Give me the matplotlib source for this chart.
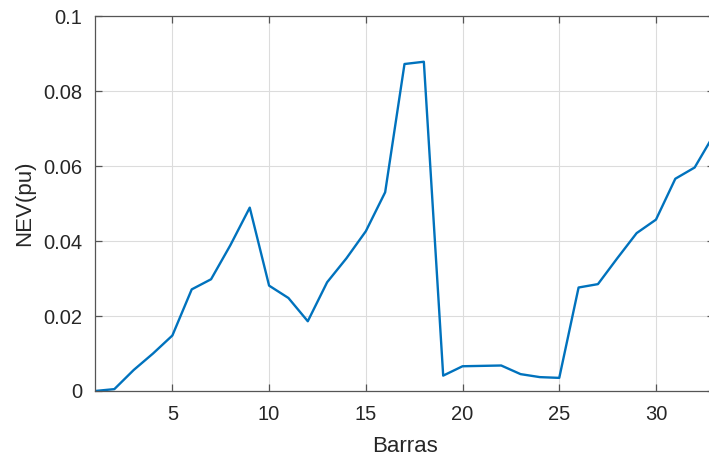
import matplotlib
matplotlib.use("Agg")
import matplotlib.pyplot as plt

barras = list(range(1, 34))
nev = [0.0000, 0.0005, 0.0056, 0.0100, 0.0148, 0.0271, 0.0298, 0.0389, 0.0489, 0.0281,
       0.0248, 0.0186, 0.0290, 0.0354, 0.0426, 0.0530, 0.0872, 0.0878, 0.0041, 0.0066,
       0.0067, 0.0068, 0.0045, 0.0037, 0.0035, 0.0276, 0.0285, 0.0354, 0.0421, 0.0457,
       0.0566, 0.0596, 0.0684]
xticks = [5, 10, 15, 20, 25, 30]
yticks = [0, 0.02, 0.04, 0.06, 0.08, 0.1]
yticklabels = ["0", "0.02", "0.04", "0.06", "0.08", "0.1"]

plt.rcParams['font.family'] = ['Liberation Sans', 'DejaVu Sans']

W, H = 709, 458
fig = plt.figure(figsize=(W / 100, H / 100), dpi=100)
ax = fig.add_axes([95 / W, (H - 391) / H, (714 - 95) / W, (391 - 16) / H])

ax.plot(barras, nev, color='#0072BD', lw=1.7)

ax.set_xlim(1, 33)
ax.set_ylim(0, 0.1)
ax.set_xticks(xticks)
ax.set_yticks(yticks)
ax.set_yticklabels(yticklabels)
ax.grid(True, color='#dcdcdc', lw=0.8)
ax.set_axisbelow(True)
for s in ax.spines.values():
    s.set_color('#555555')
    s.set_linewidth(0.9)
ax.tick_params(direction='in', top=True, right=True, length=5, width=0.9,
               color='#555555', labelcolor='#262626', labelsize=14.5)
ax.tick_params(axis='x', pad=10)
ax.tick_params(axis='y', pad=9)
ax.set_xlabel('Barras', fontsize=16, color='#262626', labelpad=9)
ax.set_ylabel('NEV(pu)', fontsize=16, color='#262626', labelpad=6)

fig.savefig('out.png', dpi=100)
